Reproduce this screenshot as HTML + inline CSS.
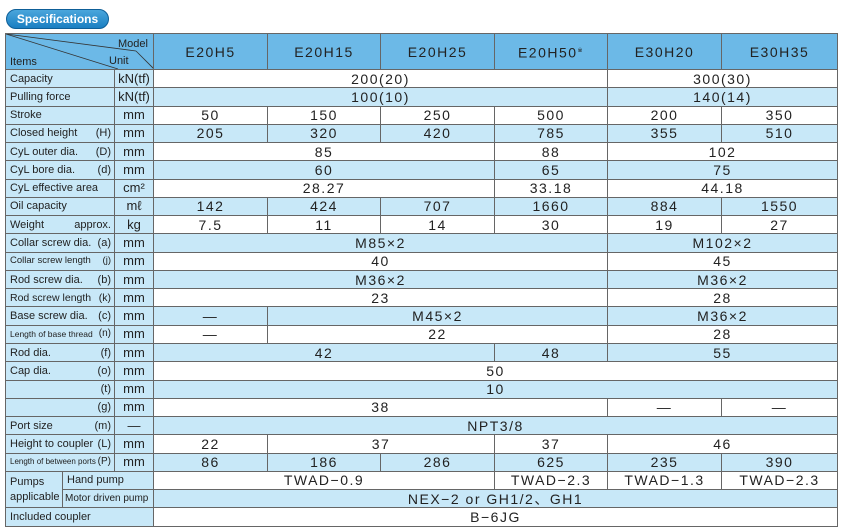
<!DOCTYPE html>
<html><head><meta charset="utf-8"><style>
body{margin:0;width:850px;height:530px;background:#fff;font-family:"Liberation Sans",sans-serif;position:relative;overflow:hidden}
.badge{position:absolute;left:6px;top:9px;width:103px;height:20px;border-radius:10px;background:linear-gradient(#4aa6dc,#1a7fc2);border:1px solid #0e5f98;color:#fff;font-weight:bold;font-size:12px;line-height:18px;text-align:center;box-sizing:border-box}
table{position:absolute;left:5px;top:33px;width:832px;border-collapse:collapse;table-layout:fixed;border:1.5px solid #444}
tr{height:18.28px}
td{border:1px solid #666;padding:0;text-align:center;font-size:14px;letter-spacing:1.5px;color:#222;white-space:nowrap;overflow:hidden;line-height:16px;vertical-align:middle}
tr.w td{background:#fff}
tr.b td{background:#c8e8f8}
td.l{background:#c8e8f8 !important;text-align:left;font-size:11px;letter-spacing:0;padding:0 3px 0 4px}
td.l div{display:flex;justify-content:space-between;white-space:nowrap}
td.u{background:#c8e8f8 !important;font-size:13px;letter-spacing:0}
td.s{font-size:8.5px}
tr.h{height:36px}
.h td{background:#6cb9e7;font-size:14px}
</style></head><body>
<div class="badge">Specifications</div>
<table>
<colgroup><col style="width:57px"><col style="width:52px"><col style="width:39px"><col style="width:114px"><col style="width:113px"><col style="width:114px"><col style="width:113px"><col style="width:114px"><col style="width:116px"></colgroup>
<tr class="h"><td colspan="3" style="position:relative;text-align:left;font-size:11px;letter-spacing:0">
<svg width="148" height="36" style="position:absolute;left:0;top:0"><line x1="0" y1="0" x2="130" y2="17" stroke="#333" stroke-width="0.8"/><line x1="0" y1="0" x2="112" y2="35" stroke="#333" stroke-width="0.8"/><line x1="130" y1="17" x2="148" y2="35" stroke="#333" stroke-width="0.8"/></svg>
<span style="position:absolute;left:112px;top:2px">Model</span><span style="position:absolute;left:4px;top:20px">Items</span><span style="position:absolute;left:103px;top:19px">Unit</span></td>
<td>E20H5</td><td>E20H15</td><td>E20H25</td><td>E20H50<sup style="font-size:6px">※</sup></td><td>E30H20</td><td>E30H35</td></tr>
<tr class="w"><td class="l" colspan="2">Capacity</td><td class="u">kN(tf)</td><td colspan="4">200(20)</td><td colspan="2">300(30)</td></tr>
<tr class="b"><td class="l" colspan="2">Pulling force</td><td class="u">kN(tf)</td><td colspan="4">100(10)</td><td colspan="2">140(14)</td></tr>
<tr class="w"><td class="l" colspan="2">Stroke</td><td class="u">mm</td><td>50</td><td>150</td><td>250</td><td>500</td><td>200</td><td>350</td></tr>
<tr class="b"><td class="l" colspan="2"><div><span>Closed height</span><span>(H)</span></div></td><td class="u">mm</td><td>205</td><td>320</td><td>420</td><td>785</td><td>355</td><td>510</td></tr>
<tr class="w"><td class="l" colspan="2"><div><span>CyL outer dia.</span><span>(D)</span></div></td><td class="u">mm</td><td colspan="3">85</td><td>88</td><td colspan="2">102</td></tr>
<tr class="b"><td class="l" colspan="2"><div><span>CyL bore dia.</span><span>(d)</span></div></td><td class="u">mm</td><td colspan="3">60</td><td>65</td><td colspan="2">75</td></tr>
<tr class="w"><td class="l" colspan="2">CyL effective area</td><td class="u">cm²</td><td colspan="3">28.27</td><td>33.18</td><td colspan="2">44.18</td></tr>
<tr class="b"><td class="l" colspan="2">Oil capacity</td><td class="u">mℓ</td><td>142</td><td>424</td><td>707</td><td>1660</td><td>884</td><td>1550</td></tr>
<tr class="w"><td class="l" colspan="2"><div><span>Weight</span><span>approx.</span></div></td><td class="u">kg</td><td>7.5</td><td>11</td><td>14</td><td>30</td><td>19</td><td>27</td></tr>
<tr class="b"><td class="l" colspan="2"><div><span>Collar screw dia.</span><span>(a)</span></div></td><td class="u">mm</td><td colspan="4">M85×2</td><td colspan="2">M102×2</td></tr>
<tr class="w"><td class="l" colspan="2" style="font-size:9.5px"><div><span>Collar screw length</span><span>(j)</span></div></td><td class="u">mm</td><td colspan="4">40</td><td colspan="2">45</td></tr>
<tr class="b"><td class="l" colspan="2"><div><span>Rod screw dia.</span><span>(b)</span></div></td><td class="u">mm</td><td colspan="4">M36×2</td><td colspan="2">M36×2</td></tr>
<tr class="w"><td class="l" colspan="2" style="font-size:10.5px"><div><span>Rod screw length</span><span>(k)</span></div></td><td class="u">mm</td><td colspan="4">23</td><td colspan="2">28</td></tr>
<tr class="b"><td class="l" colspan="2"><div><span>Base screw dia.</span><span>(c)</span></div></td><td class="u">mm</td><td>—</td><td colspan="3">M45×2</td><td colspan="2">M36×2</td></tr>
<tr class="w"><td class="l" colspan="2" style="font-size:8.5px"><div><span>Length of base thread</span><span style="font-size:10px">(n)</span></div></td><td class="u">mm</td><td>—</td><td colspan="3">22</td><td colspan="2">28</td></tr>
<tr class="b"><td class="l" colspan="2"><div><span>Rod dia.</span><span>(f)</span></div></td><td class="u">mm</td><td colspan="3">42</td><td>48</td><td colspan="2">55</td></tr>
<tr class="w"><td class="l" colspan="2"><div><span>Cap dia.</span><span>(o)</span></div></td><td class="u">mm</td><td colspan="6">50</td></tr>
<tr class="b"><td class="l" colspan="2"><div><span></span><span>(t)</span></div></td><td class="u">mm</td><td colspan="6">10</td></tr>
<tr class="w"><td class="l" colspan="2"><div><span></span><span>(g)</span></div></td><td class="u">mm</td><td colspan="4">38</td><td>—</td><td>—</td></tr>
<tr class="b"><td class="l" colspan="2"><div><span>Port size</span><span>(m)</span></div></td><td class="u">—</td><td colspan="6">NPT3/8</td></tr>
<tr class="w"><td class="l" colspan="2"><div><span>Height to coupler</span><span>(L)</span></div></td><td class="u">mm</td><td>22</td><td colspan="2">37</td><td>37</td><td colspan="2">46</td></tr>
<tr class="b"><td class="l" colspan="2" style="font-size:8px"><div><span>Length of between ports</span><span style="font-size:10px">(P)</span></div></td><td class="u">mm</td><td>86</td><td>186</td><td>286</td><td>625</td><td>235</td><td>390</td></tr>
<tr class="w"><td class="l" rowspan="2" style="line-height:15px;white-space:normal">Pumps applicable</td><td class="l" colspan="2">Hand pump</td><td colspan="3">TWAD−0.9</td><td>TWAD−2.3</td><td>TWAD−1.3</td><td>TWAD−2.3</td></tr>
<tr class="b"><td class="l" colspan="2" style="font-size:10px;padding-left:2px">Motor driven pump</td><td colspan="6">NEX−2 or GH1/2、GH1</td></tr>
<tr class="w"><td class="l" colspan="3">Included coupler</td><td colspan="6">B−6JG</td></tr>
</table>
</body></html>
